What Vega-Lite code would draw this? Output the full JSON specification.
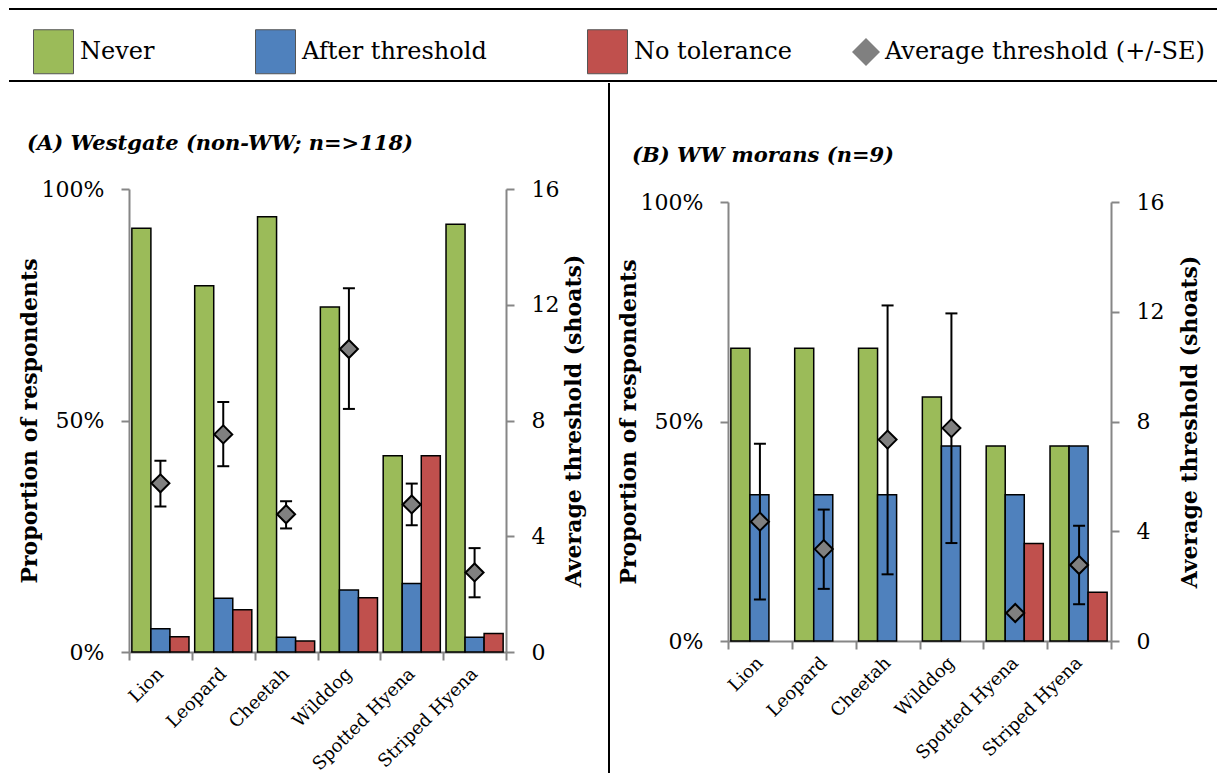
{
  "$schema": "https://vega.github.io/schema/vega-lite/v6.json",
  "padding": {"left": 8, "top": 8, "right": 0, "bottom": 0},
  "columns": 1,
  "align": "none",
  "spacing": 0,
  "datasets": {
    "edges": [{"line": "top", "pos": 1}, {"line": "bottom", "pos": 0}],
    "divider": [{"pos": 24}],
    "barsA": [
      {"animal": "Lion", "response": "Never", "value": 0.915},
      {"animal": "Lion", "response": "After threshold", "value": 0.050},
      {"animal": "Lion", "response": "No tolerance", "value": 0.033},
      {"animal": "Leopard", "response": "Never", "value": 0.791},
      {"animal": "Leopard", "response": "After threshold", "value": 0.116},
      {"animal": "Leopard", "response": "No tolerance", "value": 0.091},
      {"animal": "Cheetah", "response": "Never", "value": 0.940},
      {"animal": "Cheetah", "response": "After threshold", "value": 0.032},
      {"animal": "Cheetah", "response": "No tolerance", "value": 0.024},
      {"animal": "Wilddog", "response": "Never", "value": 0.745},
      {"animal": "Wilddog", "response": "After threshold", "value": 0.134},
      {"animal": "Wilddog", "response": "No tolerance", "value": 0.117},
      {"animal": "Spotted Hyena", "response": "Never", "value": 0.424},
      {"animal": "Spotted Hyena", "response": "After threshold", "value": 0.148},
      {"animal": "Spotted Hyena", "response": "No tolerance", "value": 0.424},
      {"animal": "Striped Hyena", "response": "Never", "value": 0.924},
      {"animal": "Striped Hyena", "response": "After threshold", "value": 0.032},
      {"animal": "Striped Hyena", "response": "No tolerance", "value": 0.040}
    ],
    "thrA": [
      {"animal": "Lion", "series": "Average threshold (+/-SE)", "mean": 5.83, "low": 5.03, "high": 6.61},
      {"animal": "Leopard", "series": "Average threshold (+/-SE)", "mean": 7.52, "low": 6.42, "high": 8.64},
      {"animal": "Cheetah", "series": "Average threshold (+/-SE)", "mean": 4.76, "low": 4.27, "high": 5.21},
      {"animal": "Wilddog", "series": "Average threshold (+/-SE)", "mean": 10.47, "low": 8.40, "high": 12.57},
      {"animal": "Spotted Hyena", "series": "Average threshold (+/-SE)", "mean": 5.10, "low": 4.38, "high": 5.82},
      {"animal": "Striped Hyena", "series": "Average threshold (+/-SE)", "mean": 2.75, "low": 1.89, "high": 3.59}
    ],
    "barsB": [
      {"animal": "Lion", "response": "Never", "value": 0.667},
      {"animal": "Lion", "response": "After threshold", "value": 0.333},
      {"animal": "Leopard", "response": "Never", "value": 0.667},
      {"animal": "Leopard", "response": "After threshold", "value": 0.333},
      {"animal": "Cheetah", "response": "Never", "value": 0.667},
      {"animal": "Cheetah", "response": "After threshold", "value": 0.333},
      {"animal": "Wilddog", "response": "Never", "value": 0.556},
      {"animal": "Wilddog", "response": "After threshold", "value": 0.444},
      {"animal": "Spotted Hyena", "response": "Never", "value": 0.444},
      {"animal": "Spotted Hyena", "response": "After threshold", "value": 0.333},
      {"animal": "Spotted Hyena", "response": "No tolerance", "value": 0.222},
      {"animal": "Striped Hyena", "response": "Never", "value": 0.444},
      {"animal": "Striped Hyena", "response": "After threshold", "value": 0.444},
      {"animal": "Striped Hyena", "response": "No tolerance", "value": 0.111}
    ],
    "thrB": [
      {"animal": "Lion", "series": "Average threshold (+/-SE)", "mean": 4.35, "low": 1.51, "high": 7.19},
      {"animal": "Leopard", "series": "Average threshold (+/-SE)", "mean": 3.35, "low": 1.90, "high": 4.79},
      {"animal": "Cheetah", "series": "Average threshold (+/-SE)", "mean": 7.34, "low": 2.43, "high": 12.23},
      {"animal": "Wilddog", "series": "Average threshold (+/-SE)", "mean": 7.76, "low": 3.57, "high": 11.94},
      {"animal": "Spotted Hyena", "series": "Average threshold (+/-SE)", "mean": 1.02, "low": null, "high": null},
      {"animal": "Striped Hyena", "series": "Average threshold (+/-SE)", "mean": 2.77, "low": 1.34, "high": 4.20}
    ]
  },
  "concat": [
    {
      "width": 1088,
      "height": 72,
      "data": {"name": "edges"},
      "mark": {"type": "rule", "color": "black", "strokeWidth": 2},
      "encoding": {
        "x": {"datum": 0, "type": "quantitative", "scale": {"domain": [0, 1], "range": [-120, 1088]}, "axis": null},
        "x2": {"datum": 1},
        "y": {"field": "pos", "type": "quantitative", "scale": {"domain": [0, 1]}, "axis": null}
      }
    },
    {
      "columns": 3,
      "align": "none",
      "spacing": 0,
      "concat": [
        {
          "width": 377,
          "height": 569,
          "title": {"text": "(A) Westgate (non-WW; n=>118)", "offset": -71, "dx": 9},
          "layer": [
            {
              "data": {"name": "barsA"},
              "mark": {"type": "bar", "stroke": "black", "strokeWidth": 1.5},
              "encoding": {
                "x": {"field": "animal", "type": "nominal",
                  "scale": {"domain": ["Lion", "Leopard", "Cheetah", "Wilddog", "Spotted Hyena", "Striped Hyena"], "paddingInner": 0, "paddingOuter": 0},
                  "axis": {"title": null, "labelAngle": -45, "labelAlign": "right", "labelBaseline": "middle", "labelFontSize": 18, "labelColor": "black", "labelPadding": 11, "tickBand": "extent", "tickSize": 8, "tickColor": "#868686", "tickWidth": 2, "domainColor": "#868686", "domainWidth": 2, "labelLimit": 200}},
                "xOffset": {"field": "response", "type": "nominal", "scale": {"domain": ["Never", "After threshold", "No tolerance"], "paddingInner": 0, "paddingOuter": 0.15}},
                "y": {"field": "value", "type": "quantitative", "stack": null, "scale": {"domain": [0, 1], "range": [569, 106]},
                  "axis": {"title": "Proportion of respondents", "orient": "left", "values": [0, 0.5, 1], "format": "%", "domainColor": "#868686", "domainWidth": 2, "tickColor": "#868686", "tickWidth": 2, "tickSize": 8, "labelPadding": 17, "labelFontSize": 22, "labelColor": "black", "titleFontSize": 22, "titleFontWeight": "bold", "titleColor": "black", "titlePadding": 0, "minExtent": 88, "maxExtent": 88}},
                "color": {"field": "response", "type": "nominal",
                  "scale": {"domain": ["Never", "After threshold", "No tolerance"], "range": ["#9BBB59", "#4F81BD", "#C0504D"]},
                  "legend": {"orient": "none", "legendX": -96, "legendY": 22, "direction": "horizontal", "title": null, "symbolType": "M-1,-1.1H1V1.1H-1Z", "symbolSize": 1600, "symbolStrokeWidth": 1, "symbolStrokeColor": "#555555", "symbolOpacity": 1, "labelFontSize": 24, "labelColor": "black", "labelOffset": 6, "columnPadding": 98, "labelLimit": 400, "padding": 0}}
              }
            },
            {
              "data": {"name": "thrA"},
              "encoding": {
                "x": {"field": "animal", "type": "nominal",
                  "axis": {"title": null, "labelAngle": -45, "labelAlign": "right", "labelBaseline": "middle", "labelFontSize": 18, "labelColor": "black", "labelPadding": 11, "tickBand": "extent", "tickSize": 8, "tickColor": "#868686", "tickWidth": 2, "domainColor": "#868686", "domainWidth": 2, "labelLimit": 200}}
              },
              "layer": [
                {
                  "mark": {"type": "rule", "color": "black", "strokeWidth": 2},
                  "encoding": {
                    "y": {"field": "low", "type": "quantitative", "scale": {"domain": [0, 16], "range": [569, 106]},
                      "axis": {"title": "Average threshold (shoats)", "orient": "right", "values": [0, 4, 8, 12, 16], "domainColor": "#868686", "domainWidth": 2, "tickColor": "#868686", "tickWidth": 2, "tickSize": 8, "labelPadding": 17, "labelFontSize": 22, "labelColor": "black", "titleFontSize": 22, "titleFontWeight": "bold", "titleColor": "black", "titleAngle": 270, "titleBaseline": "top", "titlePadding": 0, "minExtent": 57, "maxExtent": 57}},
                    "y2": {"field": "high"}
                  }
                },
                {
                  "mark": {"type": "tick", "color": "black", "thickness": 2, "size": 12, "opacity": 1},
                  "encoding": {"y": {"field": "low", "type": "quantitative", "scale": {"domain": [0, 16], "range": [569, 106]}}}
                },
                {
                  "mark": {"type": "tick", "color": "black", "thickness": 2, "size": 12, "opacity": 1},
                  "encoding": {"y": {"field": "high", "type": "quantitative", "scale": {"domain": [0, 16], "range": [569, 106]}}}
                },
                {
                  "mark": {"type": "point", "filled": true, "fill": "#808080", "stroke": "black", "strokeWidth": 2, "size": 324, "opacity": 1},
                  "encoding": {
                    "y": {"field": "mean", "type": "quantitative", "scale": {"domain": [0, 16], "range": [569, 106]}},
                    "shape": {"field": "series", "type": "nominal", "scale": {"range": ["diamond"]},
                      "legend": {"orient": "none", "legendX": 722, "legendY": 28, "title": null, "symbolSize": 784, "symbolFillColor": "#808080", "symbolStrokeColor": "black", "symbolStrokeWidth": 1.5, "symbolOpacity": 1, "labelFontSize": 24, "labelColor": "black", "labelOffset": 4, "labelLimit": 400, "padding": 0}}
                  }
                }
              ]
            }
          ],
          "resolve": {"scale": {"y": "independent"}}
        },
        {
          "width": 32,
          "height": 690,
          "data": {"name": "divider"},
          "mark": {"type": "rule", "color": "black", "strokeWidth": 2},
          "encoding": {
            "x": {"field": "pos", "type": "quantitative", "scale": {"domain": [0, 32]}, "axis": null}
          }
        },
        {
          "width": 383,
          "height": 558,
          "title": {"text": "(B) WW morans (n=9)", "offset": -83, "dx": 15},
          "layer": [
            {
              "data": {"name": "barsB"},
              "mark": {"type": "bar", "stroke": "black", "strokeWidth": 1.5},
              "encoding": {
                "x": {"field": "animal", "type": "nominal",
                  "scale": {"domain": ["Lion", "Leopard", "Cheetah", "Wilddog", "Spotted Hyena", "Striped Hyena"], "paddingInner": 0, "paddingOuter": 0},
                  "axis": {"title": null, "labelAngle": -45, "labelAlign": "right", "labelBaseline": "middle", "labelFontSize": 18, "labelColor": "black", "labelPadding": 11, "tickBand": "extent", "tickSize": 8, "tickColor": "#868686", "tickWidth": 2, "domainColor": "#868686", "domainWidth": 2, "labelLimit": 200}},
                "xOffset": {"field": "response", "type": "nominal", "scale": {"domain": ["Never", "After threshold", "No tolerance"], "paddingInner": 0, "paddingOuter": 0.15}},
                "y": {"field": "value", "type": "quantitative", "stack": null, "scale": {"domain": [0, 1], "range": [558, 119]},
                  "axis": {"title": "Proportion of respondents", "orient": "left", "values": [0, 0.5, 1], "format": "%", "domainColor": "#868686", "domainWidth": 2, "tickColor": "#868686", "tickWidth": 2, "tickSize": 8, "labelPadding": 17, "labelFontSize": 22, "labelColor": "black", "titleFontSize": 22, "titleFontWeight": "bold", "titleColor": "black", "titlePadding": 0, "minExtent": 88, "maxExtent": 88}},
                "color": {"field": "response", "type": "nominal",
                  "scale": {"domain": ["Never", "After threshold", "No tolerance"], "range": ["#9BBB59", "#4F81BD", "#C0504D"]},
                  "legend": {"orient": "none", "legendX": -96, "legendY": 22, "direction": "horizontal", "title": null, "symbolType": "M-1,-1.1H1V1.1H-1Z", "symbolSize": 1600, "symbolStrokeWidth": 1, "symbolStrokeColor": "#555555", "symbolOpacity": 1, "labelFontSize": 24, "labelColor": "black", "labelOffset": 6, "columnPadding": 98, "labelLimit": 400, "padding": 0}}
              }
            },
            {
              "data": {"name": "thrB"},
              "encoding": {
                "x": {"field": "animal", "type": "nominal",
                  "axis": {"title": null, "labelAngle": -45, "labelAlign": "right", "labelBaseline": "middle", "labelFontSize": 18, "labelColor": "black", "labelPadding": 11, "tickBand": "extent", "tickSize": 8, "tickColor": "#868686", "tickWidth": 2, "domainColor": "#868686", "domainWidth": 2, "labelLimit": 200}}
              },
              "layer": [
                {
                  "mark": {"type": "rule", "color": "black", "strokeWidth": 2},
                  "encoding": {
                    "y": {"field": "low", "type": "quantitative", "scale": {"domain": [0, 16], "range": [558, 119]},
                      "axis": {"title": "Average threshold (shoats)", "orient": "right", "values": [0, 4, 8, 12, 16], "domainColor": "#868686", "domainWidth": 2, "tickColor": "#868686", "tickWidth": 2, "tickSize": 8, "labelPadding": 17, "labelFontSize": 22, "labelColor": "black", "titleFontSize": 22, "titleFontWeight": "bold", "titleColor": "black", "titleAngle": 270, "titleBaseline": "top", "titlePadding": 0, "minExtent": 68, "maxExtent": 68}},
                    "y2": {"field": "high"}
                  }
                },
                {
                  "mark": {"type": "tick", "color": "black", "thickness": 2, "size": 12, "opacity": 1},
                  "encoding": {"y": {"field": "low", "type": "quantitative", "scale": {"domain": [0, 16], "range": [558, 119]}}}
                },
                {
                  "mark": {"type": "tick", "color": "black", "thickness": 2, "size": 12, "opacity": 1},
                  "encoding": {"y": {"field": "high", "type": "quantitative", "scale": {"domain": [0, 16], "range": [558, 119]}}}
                },
                {
                  "mark": {"type": "point", "filled": true, "fill": "#808080", "stroke": "black", "strokeWidth": 2, "size": 324, "opacity": 1},
                  "encoding": {
                    "y": {"field": "mean", "type": "quantitative", "scale": {"domain": [0, 16], "range": [558, 119]}},
                    "shape": {"field": "series", "type": "nominal", "scale": {"range": ["diamond"]},
                      "legend": {"orient": "none", "legendX": 722, "legendY": 28, "title": null, "symbolSize": 784, "symbolFillColor": "#808080", "symbolStrokeColor": "black", "symbolStrokeWidth": 1.5, "symbolOpacity": 1, "labelFontSize": 24, "labelColor": "black", "labelOffset": 4, "labelLimit": 400, "padding": 0}}
                  }
                }
              ]
            }
          ],
          "resolve": {"scale": {"y": "independent"}}
        }
      ]
    }
  ],
  "config": {
    "font": "DejaVu Serif",
    "view": {"stroke": null},
    "axis": {"labelFont": "DejaVu Serif", "titleFont": "DejaVu Serif", "grid": false},
    "legend": {"labelFont": "DejaVu Serif"},
    "title": {"font": "DejaVu Serif", "fontSize": 21, "fontStyle": "italic", "fontWeight": "bold", "anchor": "start", "frame": "bounds", "color": "black"}
  }
}
